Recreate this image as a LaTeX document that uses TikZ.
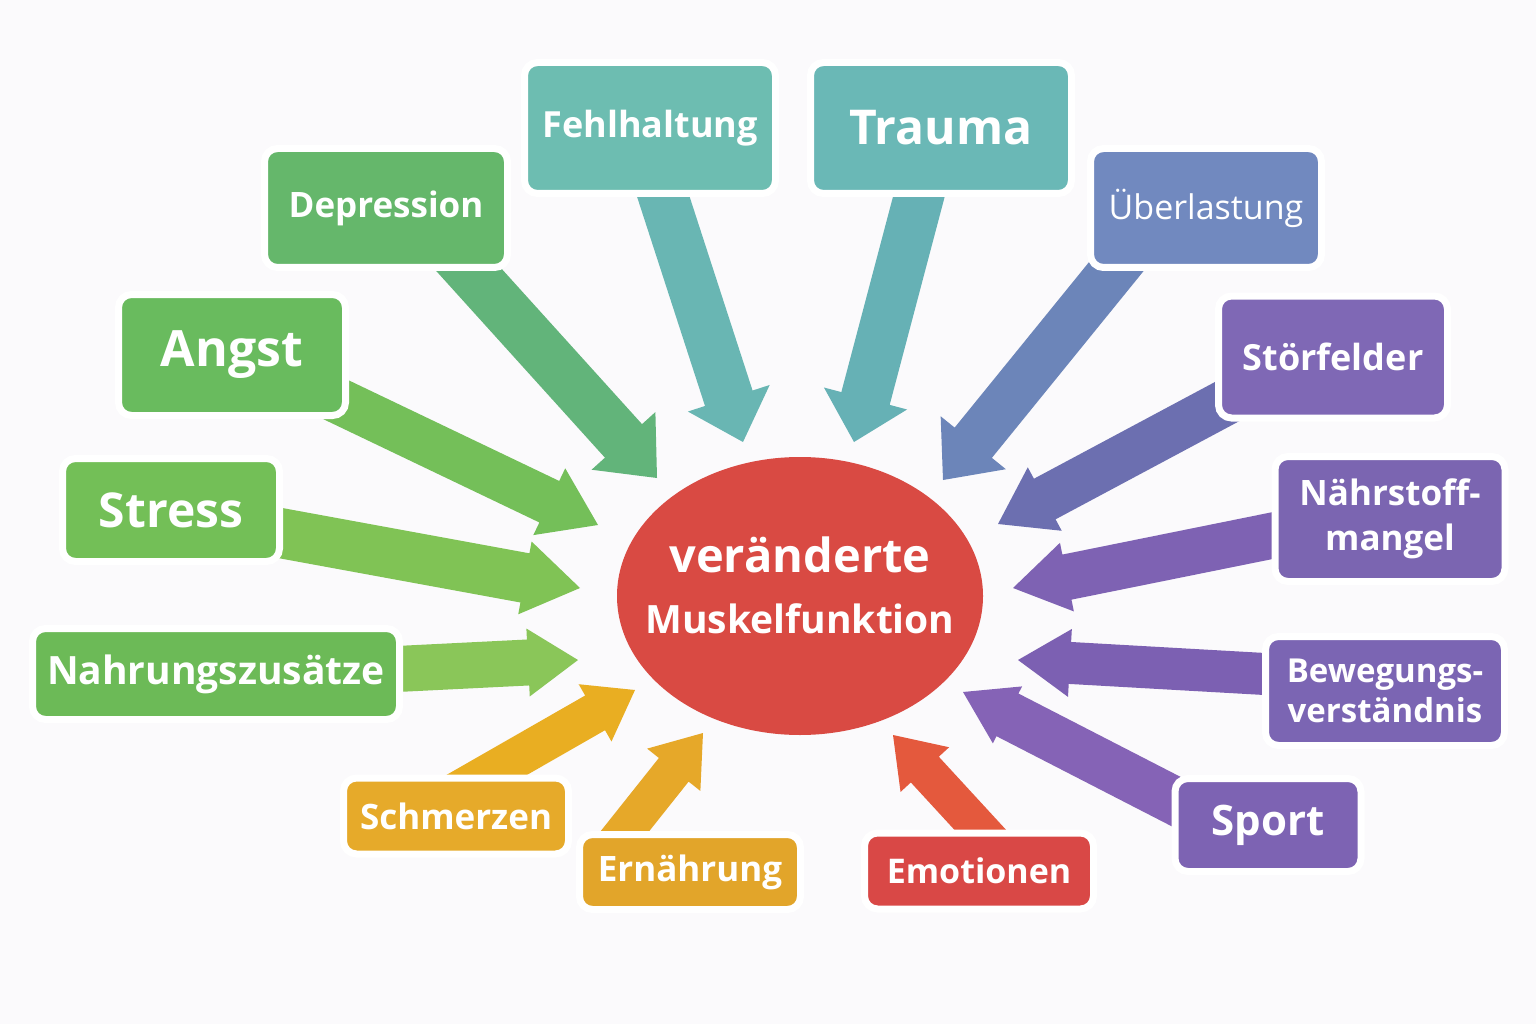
\documentclass[tikz,border=0pt]{standalone}
\usepackage{fontspec}
\setmainfont{Open Sans}
\usepackage{tikz}
\usetikzlibrary{
  shapes.geometric,
  calc,
  backgrounds
}
\definecolor{paper}{HTML}{FBFAFC}
\definecolor{musred}{HTML}{D94A43}
\definecolor{fehlteal}{HTML}{6DBDB1}
\definecolor{traumateal}{HTML}{6AB8B6}
\definecolor{deprgreen}{HTML}{65B76B}
\definecolor{angstgreen}{HTML}{69BB5E}
\definecolor{stressgreen}{HTML}{73BF57}
\definecolor{nahrgreen}{HTML}{6CBA57}
\definecolor{ueberblue}{HTML}{7189BF}
\definecolor{stoerviolet}{HTML}{7F68B5}
\definecolor{naehrviolet}{HTML}{7B65B1}
\definecolor{bewegviolet}{HTML}{7B65B3}
\definecolor{sportviolet}{HTML}{7D63B3}
\definecolor{schmerzgold}{HTML}{E6AA2A}
\definecolor{ernaehrgold}{HTML}{E2A52A}
\definecolor{emored}{HTML}{D94846}
% arrow colours
\definecolor{arrfehl}{HTML}{69B6B3}
\definecolor{arrtrauma}{HTML}{66B1B5}
\definecolor{arrdepr}{HTML}{62B47A}
\definecolor{arrangst}{HTML}{74BF59}
\definecolor{arrstress}{HTML}{80C355}
\definecolor{arrnahr}{HTML}{8AC659}
\definecolor{arrueber}{HTML}{6C85B9}
\definecolor{arrstoer}{HTML}{6C6FB0}
\definecolor{arrnaehr}{HTML}{7E62B3}
\definecolor{arrbeweg}{HTML}{7C60B2}
\definecolor{arrsport}{HTML}{8563B6}
\definecolor{arrschmerz}{HTML}{E9AE22}
\definecolor{arrernaehr}{HTML}{E6A829}
\definecolor{arremo}{HTML}{E4593D}
\tikzset{
  factor/.style={
    rectangle, fill=#1, draw=white, line width=7pt, rounded corners=13pt,
    text=white, inner sep=0pt, align=center
  },
  core/.style={
    ellipse, fill=musred, minimum width=366pt, minimum height=278pt,
    inner sep=0pt
  },
  coretext/.style={
    inner sep=0pt, text=white, align=center, text depth=22pt,
    font=\fontsize{39}{61}\selectfont\bfseries
  },
}
% block arrow: colour, start, tip, half shaft, half head, head length
\newcommand{\blockarrow}[6]{%
  \coordinate (as) at (#2);
  \coordinate (ah) at ($(#3)!#6!(as)$);
  \fill[#1] ($(as)!#4!90:(#3)$) -- ($(ah)!#4!90:(#3)$) -- ($(ah)!#5!90:(#3)$) -- (#3)
    -- ($(ah)!#5!-90:(#3)$) -- ($(ah)!#4!-90:(#3)$) -- ($(as)!#4!-90:(#3)$) -- cycle;
}

\begin{document}
\begin{tikzpicture}[x=1pt, y=-1pt]
\useasboundingbox (0,0) rectangle (1536,1024);

\node[core] (muskel) at (800,596) {};
\node[coretext] (muskel-text) at (muskel) {{\fontsize{47}{61}\selectfont veränderte}\\Muskelfunktion};

% left and top
\node[factor=fehlteal, minimum width=251pt, minimum height=131pt, font=\fontsize{36}{44}\selectfont\bfseries] (fehl) at (650,128) {Fehlhaltung};
\node[factor=traumateal, minimum width=261pt, minimum height=131pt, font=\fontsize{48}{58}\selectfont\bfseries] (trauma) at (941,128) {Trauma};
\node[factor=deprgreen, minimum width=243pt, minimum height=119pt, font=\fontsize{35}{42}\selectfont\bfseries] (depr) at (386,208) {Depression};
\node[factor=angstgreen, minimum width=227pt, minimum height=121pt, font=\fontsize{50}{60}\selectfont\bfseries] (angst) at (232,355) {Angst};
\node[factor=stressgreen, minimum width=217pt, minimum height=103pt, font=\fontsize{48}{58}\selectfont\bfseries] (stress) at (171,510) {Stress};
\node[factor=nahrgreen, minimum width=367pt, minimum height=91pt, font=\fontsize{39}{47}\selectfont\bfseries] (nahr) at (216,674) {Nahrungszusätze};
\node[factor=schmerzgold, minimum width=225pt, minimum height=76pt, font=\fontsize{35}{42}\selectfont\bfseries] (schmerz) at (456,816) {Schmerzen};
\node[factor=ernaehrgold, minimum width=221pt, minimum height=75pt, font=\fontsize{35}{42}\selectfont\bfseries] (ernaehr) at (690,872) {Ernährung};
\node[factor=emored, minimum width=229pt, minimum height=76pt, font=\fontsize{34}{41}\selectfont\bfseries] (emo) at (979,871) {Emotionen};

% right
\node[factor=ueberblue, minimum width=231pt, minimum height=119pt, font=\fontsize{34}{41}\selectfont] (ueber) at (1206,208) {Überlastung};
\node[factor=stoerviolet, minimum width=229pt, minimum height=122pt, font=\fontsize{36}{44}\selectfont\bfseries] (stoer) at (1333,357) {Störfelder};
\node[factor=naehrviolet, minimum width=230pt, minimum height=125pt, font=\fontsize{35}{45}\selectfont\bfseries] (naehr) at (1390,519) {Nährstoff-\\mangel};
\node[factor=bewegviolet, minimum width=239pt, minimum height=109pt, font=\fontsize{33}{40}\selectfont\bfseries] (beweg) at (1385,691) {Bewegungs-\\verständnis};
\node[factor=sportviolet, minimum width=186pt, minimum height=93pt, font=\fontsize{42}{50}\selectfont\bfseries] (sport) at (1268,825) {Sport};

% arrow tips
\coordinate (fehl-tip) at (743,442);
\coordinate (trauma-tip) at (854,442);
\coordinate (depr-tip) at (657,478);
\coordinate (angst-tip) at (598,525);
\coordinate (stress-tip) at (580,588);
\coordinate (nahr-tip) at (578,660);
\coordinate (schmerz-tip) at (635,690);
\coordinate (ernaehr-tip) at (703,733);
\coordinate (emo-tip) at (893,735);
\coordinate (ueber-tip) at (943,480);
\coordinate (stoer-tip) at (998,524);
\coordinate (naehr-tip) at (1013,588);
\coordinate (beweg-tip) at (1018,660);
\coordinate (sport-tip) at (963,692);

\begin{scope}[on background layer]
  \fill[paper] (0,0) rectangle (1536,1024);
  \blockarrow{arrfehl}{$(fehl)+(-9,0)$}{fehl-tip}{25pt}{43pt}{46pt}
  \blockarrow{arrtrauma}{$(trauma)+(-4,0)$}{trauma-tip}{25pt}{43pt}{45pt}
  \blockarrow{arrdepr}{$(depr)+(27,0)$}{depr-tip}{25pt}{43pt}{50pt}
  \blockarrow{arrangst}{$(angst)+(0,-5)$}{angst-tip}{23pt}{37pt}{54pt}
  \blockarrow{arrstress}{$(stress)+(0,3)$}{stress-tip}{25pt}{37pt}{56pt}
  \blockarrow{arrnahr}{$(nahr)+(0,4)$}{nahr-tip}{23pt}{34pt}{50pt}
  \blockarrow{arrschmerz}{$(schmerz)+(-41,0)$}{schmerz-tip}{20pt}{33pt}{46pt}
  \blockarrow{arrernaehr}{$(ernaehr)+(-88,-12)$}{ernaehr-tip}{19pt}{34pt}{47pt}
  \blockarrow{arremo}{$(emo)+(29,-11)$}{emo-tip}{19pt}{33pt}{47pt}
  \blockarrow{arrueber}{$(ueber)+(-60,22)$}{ueber-tip}{24pt}{42pt}{48pt}
  \blockarrow{arrstoer}{$(stoer)+(-73,27)$}{stoer-tip}{23pt}{36pt}{53pt}
  \blockarrow{arrnaehr}{$(naehr)+(-80,9)$}{naehr-tip}{23pt}{35pt}{55pt}
  \blockarrow{arrbeweg}{$(beweg)+(-85,-15)$}{beweg-tip}{21pt}{34pt}{52pt}
  \blockarrow{arrsport}{$(sport)+(-58,-6)$}{sport-tip}{24pt}{32pt}{50pt}
\end{scope}

\end{tikzpicture}
\end{document}
